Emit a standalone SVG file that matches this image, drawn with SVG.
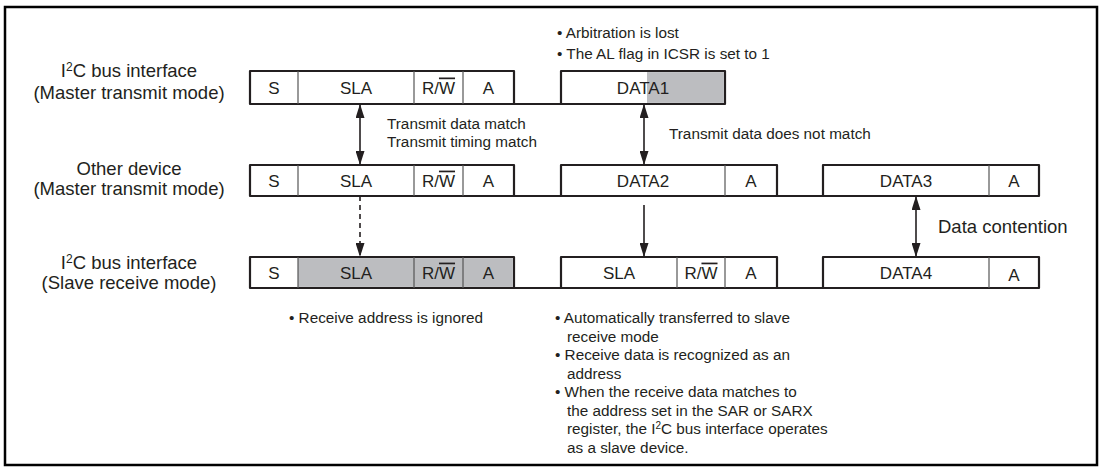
<svg xmlns="http://www.w3.org/2000/svg" width="1102" height="470" viewBox="0 0 1102 470">
<defs>
<marker id="ah" viewBox="0 0 14 9" refX="14" refY="4.5" markerWidth="14" markerHeight="9" markerUnits="userSpaceOnUse" orient="auto-start-reverse">
<path d="M0,0 L14,4.5 L0,9 z" fill="#231f20"/>
</marker>
</defs>
<style>
text{font-family:"Liberation Sans",Arial,Helvetica,sans-serif;fill:#231f20}
.lbl{font-size:18.5px;text-anchor:middle}
.big{font-size:18.5px}
.box{font-size:17px;text-anchor:middle}
.note{font-size:15.3px}
.frame{fill:#fff;stroke:#231f20;stroke-width:2.2;stroke-linejoin:round}
.div{stroke:#555;stroke-width:1.2}
.gray{fill:#bcbdc0}
.bus{stroke:#231f20;stroke-width:2.2;fill:none}
.arrow{stroke:#231f20;stroke-width:1.6;fill:none}
.ov{text-decoration:overline}
</style>
<rect x="5" y="7" width="1092" height="458" fill="#fff" stroke="#000" stroke-width="2.5"/>

<g id="label-row1">
<text class="lbl" x="129" y="77">I<tspan font-size="12" dy="-6.5">2</tspan><tspan dy="6.5">C bus interface</tspan></text>
<text class="lbl" x="129" y="99">(Master transmit mode)</text>
</g>
<g id="label-row2">
<text class="lbl" x="129" y="175">Other device</text>
<text class="lbl" x="129" y="195">(Master transmit mode)</text>
</g>
<g id="label-row3">
<text class="lbl" x="129" y="269">I<tspan font-size="12" dy="-6.5">2</tspan><tspan dy="6.5">C bus interface</tspan></text>
<text class="lbl" x="129" y="289">(Slave receive mode)</text>
</g>

<g id="row1-frame1">
<rect class="frame" x="250" y="71" width="264" height="33"/>
<line class="div" x1="298" y1="71" x2="298" y2="104"/>
<line class="div" x1="414" y1="71" x2="414" y2="104"/>
<line class="div" x1="463" y1="71" x2="463" y2="104"/>
<text class="box" x="274" y="93.5">S</text>
<text class="box" x="356" y="93.5">SLA</text>
<text class="box" x="438.5" y="93.5">R/<tspan class="ov">W</tspan></text>
<text class="box" x="488.5" y="93.5">A</text>
</g>
<g id="row1-frame2">
<rect class="frame" x="561" y="71" width="164" height="33"/>
<rect class="gray" x="647" y="72.1" width="76.9" height="30.8"/>
<text class="box" x="643" y="93.5">DATA1</text>
</g>

<g id="row2-frame1">
<rect class="frame" x="250" y="165" width="264" height="31"/>
<line class="div" x1="298" y1="165" x2="298" y2="196"/>
<line class="div" x1="414" y1="165" x2="414" y2="196"/>
<line class="div" x1="463" y1="165" x2="463" y2="196"/>
<text class="box" x="274" y="186.6">S</text>
<text class="box" x="356" y="186.6">SLA</text>
<text class="box" x="438.5" y="186.6">R/<tspan class="ov">W</tspan></text>
<text class="box" x="488.5" y="186.6">A</text>
</g>
<g id="row2-frame2">
<rect class="frame" x="561" y="165" width="216" height="31"/>
<line class="div" x1="725" y1="165" x2="725" y2="196"/>
<text class="box" x="643" y="186.6">DATA2</text>
<text class="box" x="751" y="186.6">A</text>
</g>
<g id="row2-frame3">
<rect class="frame" x="823" y="165" width="216" height="31"/>
<line class="div" x1="989" y1="165" x2="989" y2="196"/>
<text class="box" x="906" y="186.6">DATA3</text>
<text class="box" x="1014" y="186.6">A</text>
</g>

<g id="row3-frame1">
<rect class="frame" x="250" y="257" width="264" height="31"/>
<rect class="gray" x="298" y="258.1" width="214.9" height="28.8"/>
<line class="div" x1="298" y1="257" x2="298" y2="288"/>
<line class="div" x1="414" y1="257" x2="414" y2="288"/>
<line class="div" x1="463" y1="257" x2="463" y2="288"/>
<text class="box" x="274" y="278.6">S</text>
<text class="box" x="356" y="278.6">SLA</text>
<text class="box" x="438.5" y="278.6">R/<tspan class="ov">W</tspan></text>
<text class="box" x="488.5" y="278.6">A</text>
</g>
<g id="row3-frame2">
<rect class="frame" x="561" y="257" width="216" height="31"/>
<line class="div" x1="677" y1="257" x2="677" y2="288"/>
<line class="div" x1="725" y1="257" x2="725" y2="288"/>
<text class="box" x="619" y="278.6">SLA</text>
<text class="box" x="701" y="278.6">R/<tspan class="ov">W</tspan></text>
<text class="box" x="751" y="278.6">A</text>
</g>
<g id="row3-frame3">
<rect class="frame" x="823" y="257" width="216" height="31"/>
<line class="div" x1="989" y1="257" x2="989" y2="288"/>
<text class="box" x="906" y="278.6">DATA4</text>
<text class="box" x="1014" y="280.6">A</text>
</g>

<g id="connectors">
<path class="bus" d="M514,104 H561"/>
<path class="bus" d="M514,196 H561 M777,196 H823"/>
<path class="bus" d="M514,288 H561 M777,288 H823"/>
<line class="arrow" x1="360" y1="104" x2="360" y2="165" marker-start="url(#ah)" marker-end="url(#ah)"/>
<line class="arrow" x1="360" y1="196" x2="360" y2="257" stroke-dasharray="5,4" marker-end="url(#ah)"/>
<line class="arrow" x1="644" y1="104" x2="644" y2="165" marker-start="url(#ah)" marker-end="url(#ah)"/>
<line class="arrow" x1="644" y1="205" x2="644" y2="257" marker-end="url(#ah)"/>
<line class="arrow" x1="916" y1="196" x2="916" y2="257" marker-start="url(#ah)" marker-end="url(#ah)"/>
</g>

<g id="notes">
<text class="note" x="387" y="129">Transmit data match</text>
<text class="note" x="387" y="147">Transmit timing match</text>
<text class="note" x="669" y="139">Transmit data does not match</text>
<text class="big" x="938" y="233">Data contention</text>
<text class="note" x="557" y="38">• Arbitration is lost</text>
<text class="note" x="557" y="59">• The AL flag in ICSR is set to 1</text>
<text class="note" x="289" y="323">• Receive address is ignored</text>
<text class="note" x="555" y="323">• Automatically transferred to slave</text>
<text class="note" x="567" y="341.5">receive mode</text>
<text class="note" x="555" y="360">• Receive data is recognized as an</text>
<text class="note" x="567" y="378.5">address</text>
<text class="note" x="555" y="397">• When the receive data matches to</text>
<text class="note" x="567" y="415.5">the address set in the SAR or SARX</text>
<text class="note" x="567" y="434">register, the I<tspan font-size="10" dy="-5">2</tspan><tspan dy="5">C bus interface operates</tspan></text>
<text class="note" x="567" y="452.5">as a slave device.</text>
</g>
</svg>
